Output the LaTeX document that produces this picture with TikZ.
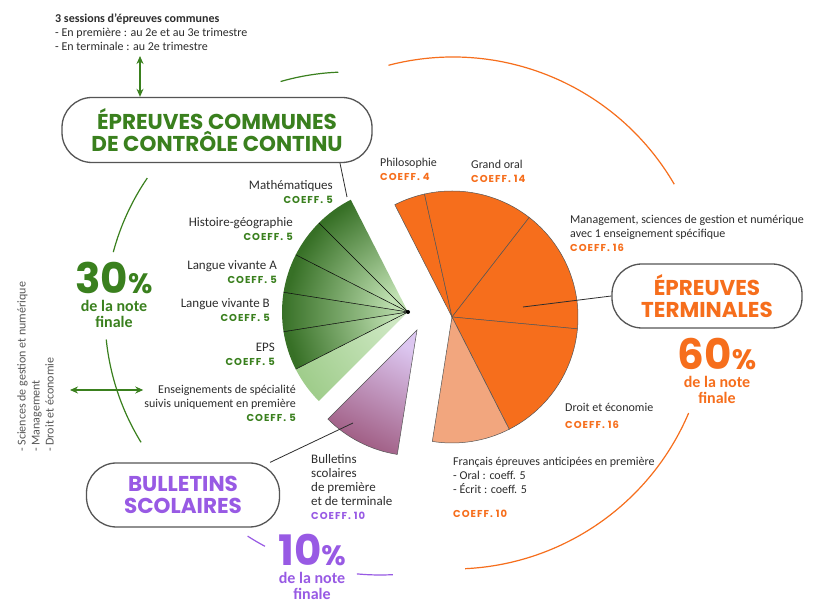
\documentclass[tikz,border=0pt]{standalone}
\usepackage{fontspec}
\setmainfont{Carlito}
\newfontfamily\headfont{Poppins}
\newfontfamily\coefffont{Poppins}[LetterSpace=10]
\usetikzlibrary{arrows.meta}
\definecolor{darkgreen}{RGB}{58, 128, 30}
\definecolor{fangreen}{RGB}{55, 112, 38}
\definecolor{lightgreen}{RGB}{192, 225, 178}
\definecolor{palegreen}{RGB}{160, 205, 140}
\definecolor{mainorange}{RGB}{246, 110, 28}
\definecolor{paleorange}{RGB}{242, 166, 126}
\definecolor{mainpurple}{RGB}{152, 90, 228}
\definecolor{lilac}{RGB}{220, 198, 240}
\definecolor{mauve}{RGB}{158, 90, 128}
\definecolor{textgrey}{RGB}{45, 45, 45}
\definecolor{boxgrey}{RGB}{85, 85, 85}

\newcommand{\coeff}[2]{{\coefffont\bfseries\fontsize{10}{12}\selectfont\color{#1}COEFF. #2}}

\begin{document}
\begin{tikzpicture}[x=1pt, y=1pt,
        titlebox/.style = {draw=boxgrey, line width=1.3pt, rounded corners=30pt, fill=white, align=center, inner sep=0pt,
            font=\headfont\bfseries\fontsize{21.5}{22}\selectfont},
        smalltext/.style = {text=textgrey, inner sep=0pt, font=\fontsize{12}{14}\selectfont},
        widetext/.style = {smalltext, font=\fontsize{13}{14}\selectfont},
        pct/.style = {align=center, inner sep=0pt, anchor=north, font=\bfseries\fontsize{16}{16}\selectfont},
        slicelines/.style = {draw=black, line width=0.5pt},
        ring/.style = {line width=1.2pt},
        link/.style = {draw=textgrey, line width=0.8pt},
        twoway/.style = {{Stealth[length=8pt,width=7pt]}-{Stealth[length=8pt,width=7pt]}, draw=darkgreen, line width=1.6pt}]
    \fill[white] (0,0) rectangle (814,601);
    \useasboundingbox (0,0) rectangle (814,601);

    % centres of the three parts of the pie
    \coordinate (G) at (408,289);
    \coordinate (O) at (452,284);
    \coordinate (P) at (417,271);

    % controle continu : 30 coeff., 3.6 degrees each
    \foreach \a in {117,135,153,171,189} {
        \pgfmathsetmacro{\b}{\a+18}
        \pgfmathsetmacro{\s}{\a-81}
        \shade[top color=fangreen, bottom color=lightgreen, shading angle=\s]
            (G) -- ++(\a:126pt) arc[start angle=\a, end angle=\b, radius=126pt] -- cycle;
    }
    \shade[top color=palegreen, bottom color=lightgreen!80!white, shading angle=126]
        (G) -- ++(207:126pt) arc[start angle=207, end angle=225, radius=126pt] -- cycle;
    \foreach \a in {135,153,171,189,207}
        \draw[slicelines] (G) -- ++(\a:126pt);
    \fill (G) circle (2pt);

    % epreuves terminales
    \foreach \a/\b/\c in {117/102.6/mainorange, 102.6/52.2/mainorange, 52.2/-5.4/mainorange, -5.4/-63/mainorange, -63/-99/paleorange}
        \filldraw[fill=\c, slicelines, draw=boxgrey] (O) -- ++(\a:126pt) arc[start angle=\a, end angle=\b, radius=126pt] -- cycle;

    % bulletins
    \shadedraw[top color=mauve, bottom color=lilac, shading angle=153, slicelines, draw=boxgrey]
        (P) -- ++(225:126pt) arc[start angle=225, end angle=261, radius=126pt] -- cycle;

    % outer rings
    \coordinate (GR) at (348,286);
    \coordinate (OR) at (453,288);
    \coordinate (PR) at (380,271);
    \draw[ring, darkgreen] (GR) ++(106.1:243pt) arc[start angle=106.1, end angle=92.3, radius=243pt];
    \draw[ring, darkgreen] (GR) ++(145.7:243pt) arc[start angle=145.7, end angle=165, radius=243pt];
    \draw[ring, darkgreen] (GR) ++(185.8:243pt) arc[start angle=185.8, end angle=211.6, radius=243pt];
    \draw[ring, mainorange] (OR) ++(104.6:256pt) arc[start angle=104.6, end angle=30.2, radius=256pt];
    \draw[ring, mainorange] (OR) ++(-23:256pt) arc[start angle=-23, end angle=-87.3, radius=256pt];
    \draw[ring, mainpurple] (PR) ++(237.3:245pt) arc[start angle=237.3, end angle=242, radius=245pt];
    \draw[ring, mainpurple] (PR) ++(264.6:245pt) arc[start angle=264.6, end angle=273, radius=245pt];

    % title boxes
    \node[titlebox, text=darkgreen, minimum width=310pt, minimum height=65pt] (commun) at (217,471) {ÉPREUVES COMMUNES\\DE CONTRÔLE CONTINU};
    \node[titlebox, text=mainorange, minimum width=190pt, minimum height=64pt] (terminal) at (707,305) {ÉPREUVES\\TERMINALES};
    \node[titlebox, text=mainpurple, minimum width=193pt, minimum height=64pt] (bulletin) at (183,106) {BULLETINS\\SCOLAIRES};

    % percentages
    \node[pct, text=darkgreen] (pctA) at (114,339) {{\headfont\fontsize{42}{42}\selectfont 30}{\headfont\fontsize{28}{28}\selectfont\%}\\[2pt]de la note\\finale};
    \node[pct, text=mainorange] (pctB) at (717,263) {{\headfont\fontsize{42}{42}\selectfont 60}{\headfont\fontsize{28}{28}\selectfont\%}\\[2pt]de la note\\finale};
    \node[pct, text=mainpurple] (pctC) at (312,67) {{\headfont\fontsize{42}{42}\selectfont 10}{\headfont\fontsize{28}{28}\selectfont\%}\\[2pt]de la note\\finale};

    % labels
    \node[smalltext, anchor=north west, align=left] (sessions) at (55,587) {\textbf{3 sessions d'épreuves communes}\\- En première : au 2e et au 3e trimestre\\- En terminale : au 2e trimestre};
    \node[smalltext, anchor=north west, align=left, rotate=90, text=textgrey!80] (options) at (17,149) {- Sciences de gestion et numérique\\- Management\\- Droit et économie};

    \node[widetext, anchor=north east, align=right] (math) at (333,421) {Mathématiques\\\coeff{darkgreen}{5}};
    \node[widetext, anchor=north east, align=right] (histoire) at (293,384) {Histoire-géographie\\\coeff{darkgreen}{5}};
    \node[widetext, anchor=north east, align=right] (lva) at (277,341) {Langue vivante A\\\coeff{darkgreen}{5}};
    \node[widetext, anchor=north east, align=right] (lvb) at (270,303) {Langue vivante B\\\coeff{darkgreen}{5}};
    \node[widetext, anchor=north east, align=right] (eps) at (275,258) {EPS\\\coeff{darkgreen}{5}};
    \node[smalltext, anchor=north east, align=right] (specialite) at (296,216) {Enseignements de spécialité\\suivis uniquement en première\\\coeff{darkgreen}{5}};

    \node[smalltext, anchor=north west, align=left] (philo) at (380,443) {Philosophie\\\coeff{mainorange}{4}};
    \node[smalltext, anchor=north west, align=left] (oral) at (471,441) {Grand oral\\\coeff{mainorange}{14}};
    \node[smalltext, anchor=north west, align=left] (management) at (570,386) {Management, sciences de gestion et numérique\\avec 1 enseignement spécifique\\\coeff{mainorange}{16}};
    \node[smalltext, anchor=north west, align=left] (droit) at (565,198) {Droit et économie\\[3pt]\coeff{mainorange}{16}};
    \node[smalltext, anchor=north west, align=left] (francais) at (453,144) {Français épreuves anticipées en première\\- Oral : coeff. 5\\- Écrit : coeff. 5\\[10pt]\coeff{mainorange}{10}};
    \node[widetext, anchor=north west, align=left] (bulletins) at (311,147) {Bulletins\\scolaires\\de première\\et de terminale\\\coeff{mainpurple}{10}};

    % connectors
    \coordinate (mathpt) at (347,404);
    \coordinate (mgmtpt) at (523,294);
    \coordinate (bullpt) at (353,178);
    \draw[link] ([xshift=123pt]commun.south) -- (mathpt);
    \draw[link] (terminal.west) -- (mgmtpt);
    \draw[link] ([xshift=-10pt]bulletin.north east) -- (bullpt);
    \coordinate (sesbot) at (140,545);
    \draw[twoway] (sesbot) -- (sesbot |- commun.north);
    \coordinate (optend) at (70,211);
    \draw[twoway] (optend) -- ([xshift=-1pt]optend -| specialite.west);
\end{tikzpicture}
\end{document}
